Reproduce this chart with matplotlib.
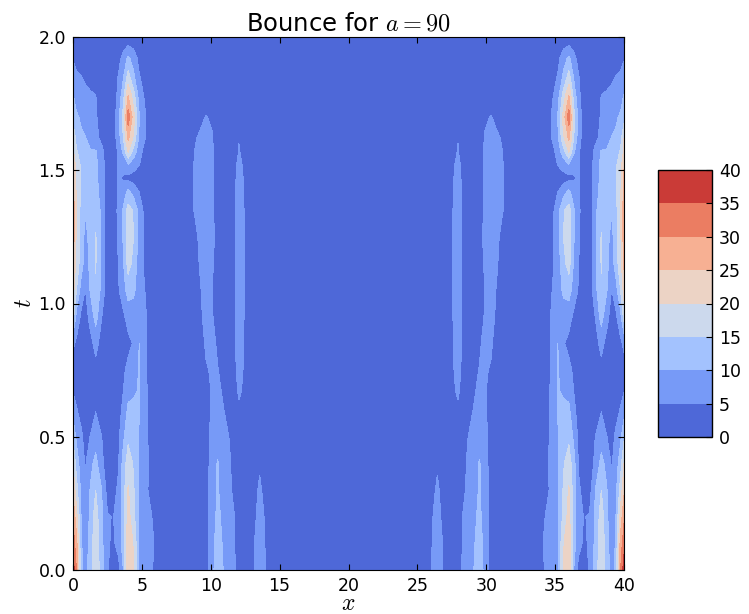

import matplotlib
matplotlib.use("Agg")
import matplotlib.pyplot as plt
import numpy as np

plt.rcParams["mathtext.fontset"] = "cm"
plt.rcParams["font.family"] = "DejaVu Sans"

T_VALUES = [0, .1, .2, .3, .4, .5, .6, .67, .75, .85, .95, 1.05, 1.15, 1.25,
            1.35, 1.42, 1.47, 1.52, 1.57, 1.62, 1.7, 1.78, 1.85, 1.92, 2.0]
X_NEAR = [0, .25, .6, .9, 1.25, 1.65, 2.1, 2.5, 2.9, 3.3, 3.65, 4, 4.4, 4.8, 5.3, 5.9, 6.5]
X_FAR = [8.7, 9.3, 9.65, 10.1, 10.5, 10.9, 11.4, 11.8, 12.05, 12.4, 12.9, 13.15, 13.55, 14, 14.5, 20]
LEVELS = [0, 5, 10, 15, 20, 25, 30, 35, 40]
X_TICKS = [0, 5, 10, 15, 20, 25, 30, 35, 40]
T_TICKS = [0, .5, 1, 1.5, 2]

# one row per t, one column per X_NEAR
NEAR = [
    [38, 30, 11, 8, 12.5, 19.5, 11.5, 5.5, 2, 3, 10, 24, 20, 9.5, 7, 4.5, 2],
    [33, 27, 10.5, 7, 12, 18.5, 11, 5.8, 4, 7, 12, 23.5, 19.5, 9.5, 7, 4.9, 2],
    [29, 22, 9.5, 4.8, 11.5, 17.5, 10.5, 5.4, 4.8, 6.5, 12, 22, 16.5, 9.5, 6.5, 4.4, 1.5],
    [24, 17, 8.5, 4.5, 10.3, 15, 9.8, 3, 3, 6, 12.5, 20.5, 15.5, 9.5, 5.6, 3, 1],
    [20, 13, 7, 4.5, 8.5, 11.5, 6, 2.5, 2.5, 4.5, 12, 17.5, 14.5, 9.5, 6, 3, 1],
    [14, 9, 6, 3, 5.1, 8, 4.9, 2, 2, 4, 9, 14, 12, 9.5, 5.5, 3, 1],
    [8, 5.5, 3, 1, 2.5, 4.8, 2, 1, 1, 3.5, 6, 11, 12, 10.5, 5.5, 3, 1],
    [4.8, 3, 1.5, .5, 1, 2, 1, .5, .5, 2, 5, 8.5, 9, 10.6, 5.5, 2.5, 1],
    [3, 1.5, 1, .5, 1.5, 3.5, 1.5, .5, .5, 1, 4, 6.5, 7, 10.3, 5.1, 2, 1],
    [6, 4, 2, 1.5, 3.5, 6.5, 3, 1, .5, 1, 2, 3.5, 5.5, 10, 5.1, 2, 1],
    [17, 8.5, 4, 3, 6.5, 12, 5, 2, 1, 2.5, 4, 7, 7.5, 8.5, 5.2, 2, 1],
    [22, 15, 7.5, 4.8, 10.3, 14.5, 8, 2, 1, 4.5, 8, 12, 11, 7.5, 4.5, 1.5, .5],
    [26, 18, 12.5, 7, 11.5, 15.3, 8.5, 2, 1, 5.1, 9.5, 17, 13.5, 7, 3.5, 1, .5],
    [28, 19, 12.5, 8.5, 11.5, 15.3, 8.5, 2, 1, 6, 10.5, 18.5, 15, 8.5, 3, 1, .5],
    [28, 19, 13.5, 10.5, 11.5, 13.5, 8.5, 2, 1, 6.5, 10.5, 17, 14.5, 8.2, 2.5, 1, .5],
    [27, 19, 14, 11, 11, 11.5, 8, 2, 1, 5.5, 8, 11, 8, 5, 2, 1, .5],
    [26, 19, 14, 11, 10.5, 11, 8, 1.5, 1.5, 5.5, 4.5, 3.5, 3, 2.5, 1, .5, .5],
    [24.5, 18, 14, 11, 10.5, 11, 7.5, 1.5, 1.5, 5.5, 6.5, 9.5, 7, 5.2, 1.5, .5, .5],
    [21, 15.5, 13, 10.5, 10.4, 10.4, 6.5, 1.5, 1.5, 6, 11, 20.5, 13, 7, 2.5, .5, .5],
    [20, 13, 10.5, 10.2, 8.5, 6.5, 3.5, 1, 2, 7.5, 15, 26, 19, 9, 4.5, 1.5, .5],
    [13, 10.5, 9.5, 8, 6.5, 5.5, 3, 1, 2, 8.5, 17, 33, 22, 10.5, 4.9, 1.5, .5],
    [10.2, 8.5, 7.5, 6.5, 5.8, 5.1, 2, .5, 1.5, 6.5, 13, 25, 17, 8, 3.5, 1, .5],
    [8, 6, 5.2, 4, 3, 2.5, 1, .5, 1, 5.5, 9.5, 17, 11, 5.5, 2, .5, .5],
    [4.5, 3, 2, 1.5, 1, 1, .5, .5, .5, 3, 7, 11, 8, 3.5, 1, .5, .5],
    [1, 1, 1, 1, 1, 1, .5, .5, .5, .5, 1, 1, 1, .5, .5, .5, .5],
]

# one row per t, one column per X_FAR
FAR = [
    [1, 2, 2.8, 8.5, 13, 10, 7, 4.9, 2.5, 1, 1.5, 5.1, 8.5, 4.6, 2, .5],
    [1, 2, 2.9, 8.5, 12, 9.5, 7, 4.7, 2.5, 1, 1.5, 4.8, 8, 4.5, 2, .5],
    [1, 2, 3, 8, 11, 9, 6.8, 4.6, 2, 1, 1, 3.8, 7, 4.2, 1.5, .5],
    [1, 1.5, 3, 7.5, 10.5, 8, 5.5, 3.8, 1.5, .8, .8, 3, 6, 3, 1, .5],
    [1, 1.5, 3, 7, 10.4, 8, 5.2, 3, 1, .5, .5, 2, 4.2, 2, .8, .3],
    [1, 1.5, 2.9, 6.5, 7.5, 6.5, 4.7, 2.5, 1, .5, .5, 1, 2, 1, .5, .3],
    [1, 1.5, 3, 5.8, 6, 5.2, 3.5, 2.5, 4, 2.5, .5, .5, .5, .5, .3, .3],
    [1, 1.5, 3, 5.5, 5.8, 4.6, 2.5, 3.8, 5.8, 4.2, 1, .5, .3, .3, .3, .3],
    [1, 2, 4.6, 5.5, 5.1, 4.4, 2, 4.6, 6.5, 4.7, 1, .5, .3, .3, .3, .3],
    [1, 3.5, 5.6, 5.8, 4.6, 3, 3, 5.1, 7, 5, 2, .5, .3, .3, .3, .3],
    [1, 4.5, 6.5, 5.3, 3.5, 2, 3, 5.2, 7, 5.1, 2, .5, .3, .3, .3, .3],
    [1.5, 5, 6.5, 5, 3, 1.5, 2.5, 5.1, 7, 5.1, 2, .5, .3, .3, .3, .3],
    [2.5, 5.8, 6.5, 5.5, 3.5, 1.5, 2.5, 5.1, 7, 5.1, 2, .5, .3, .3, .3, .3],
    [3.5, 6, 6.5, 5.8, 3.8, 1.5, 2.5, 5.1, 7, 5.1, 2, .5, .3, .3, .3, .3],
    [4.8, 6.5, 6.5, 5.6, 3.5, 1.5, 2.5, 5.1, 6.8, 5.1, 2, .5, .3, .3, .3, .3],
    [4.8, 6.5, 6.5, 5.6, 3.5, 1.5, 2.5, 5, 6.5, 5, 2, .5, .3, .3, .3, .3],
    [4.8, 6.5, 6.5, 5.6, 3.5, 1.5, 2.5, 4.8, 6.2, 4.8, 2, .5, .3, .3, .3, .3],
    [4.8, 6.5, 6.5, 5.6, 3.5, 1.5, 2.5, 4.5, 6, 4.5, 1.5, .5, .3, .3, .3, .3],
    [4.7, 6.3, 6.4, 5.5, 3.2, 1.5, 2, 3.5, 5.3, 3.5, 1, .5, .3, .3, .3, .3],
    [4.5, 5.6, 6, 5.3, 3, 1.5, 1.5, 2.5, 4.8, 2.5, 1, .3, .3, .3, .3, .3],
    [3, 4.4, 5.15, 4.5, 2.5, 1, 1, 1.5, 2.5, 1.5, .5, .3, .3, .3, .3, .3],
    [1.5, 3, 3.5, 3, 1.5, .5, .5, 1, 1, 1, .5, .3, .3, .3, .3, .3],
    [1, 1.5, 2, 1.5, 1, .5, .5, .5, .5, .5, .3, .3, .3, .3, .3, .3],
    [.5, 1, 1, 1, .5, .5, .3, .3, .3, .3, .3, .3, .3, .3, .3, .3],
    [.5, .5, .5, .5, .3, .3, .3, .3, .3, .3, .3, .3, .3, .3, .3, .3],
]


def main() -> None:
    half_x = np.array(X_NEAR + X_FAR)
    half_z = np.hstack([np.array(NEAR), np.array(FAR)])
    # the field is symmetric about x = 20
    x = np.concatenate([half_x, 40 - half_x[-2::-1]])
    z = np.hstack([half_z, half_z[:, -2::-1]])

    fig = plt.figure(figsize=(7.49, 6.14), dpi=100)
    ax = fig.add_axes([73 / 749, 44 / 614, 551 / 749, 533 / 614])
    cs = ax.contourf(x, T_VALUES, z, levels=LEVELS, cmap="coolwarm", vmin=0, vmax=40)

    ax.set_xlim(0, 40)
    ax.set_ylim(0, 2)
    ax.set_xticks(X_TICKS)
    ax.set_yticks(T_TICKS)
    ax.tick_params(direction="in", top=True, right=True, length=4, labelsize=12.5, pad=5)
    ax.set_xlabel("$x$", fontsize=17, labelpad=-2.5)
    ax.set_ylabel("$t$", fontsize=17, labelpad=2)
    ax.set_title("Bounce for $a = 90$", fontsize=17.5, pad=5)

    cax = fig.add_axes([658 / 749, 177 / 614, 54 / 749, 267 / 614])
    cb = fig.colorbar(cs, cax=cax, ticks=LEVELS)
    cb.ax.tick_params(direction="in", length=4, labelsize=12.5, pad=5)
    cb.outline.set_linewidth(1)

    fig.savefig("out.png", dpi=100)
    plt.close(fig)


if __name__ == "__main__":
    main()
